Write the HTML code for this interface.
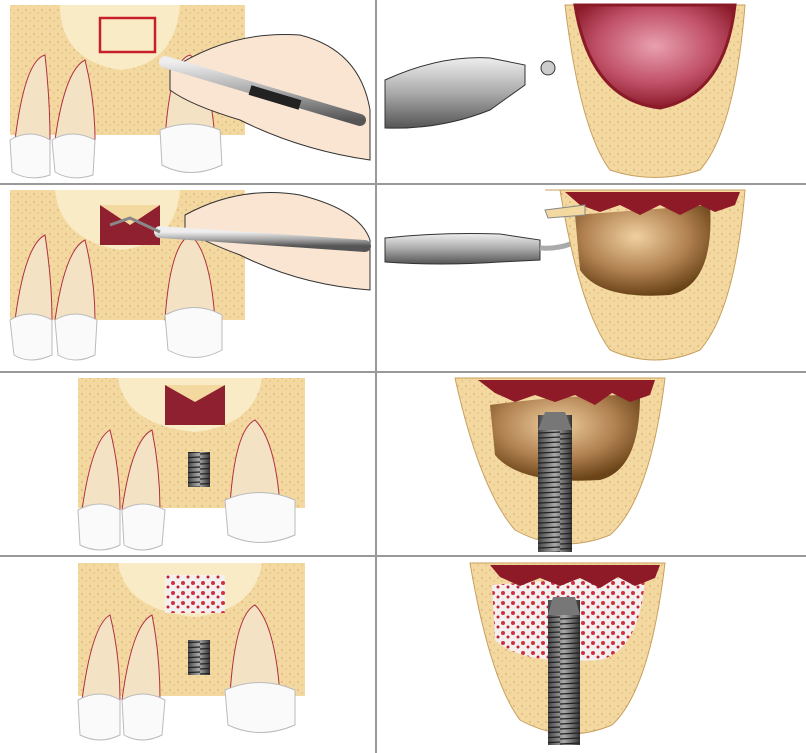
<!DOCTYPE html>
<html><head><style>
html,body{margin:0;padding:0;background:#fff;width:806px;height:753px;overflow:hidden}
</style></head><body>
<svg width="806" height="753" viewBox="0 0 806 753" xmlns="http://www.w3.org/2000/svg">
<defs>
<radialGradient id="pink" cx="50%" cy="40%" r="60%"><stop offset="0" stop-color="#e9a0b0"/><stop offset="0.6" stop-color="#c05068"/><stop offset="1" stop-color="#8a1a28"/></radialGradient>
<radialGradient id="brown" cx="45%" cy="35%" r="65%"><stop offset="0" stop-color="#f0d0a0"/><stop offset="0.6" stop-color="#b08050"/><stop offset="1" stop-color="#6a4418"/></radialGradient>
<linearGradient id="grey" x1="0" y1="0" x2="0" y2="1"><stop offset="0" stop-color="#eee"/><stop offset="0.5" stop-color="#aaa"/><stop offset="1" stop-color="#555"/></linearGradient>
<linearGradient id="impl" x1="0" y1="0" x2="1" y2="0"><stop offset="0" stop-color="#444"/><stop offset="0.5" stop-color="#aaa"/><stop offset="1" stop-color="#333"/></linearGradient>
<pattern id="thr" width="40" height="5" patternUnits="userSpaceOnUse"><rect width="40" height="5" fill="none"/><line x1="0" y1="4" x2="40" y2="2" stroke="#222" stroke-width="1.3"/></pattern>
<pattern id="spk" width="10" height="10" patternUnits="userSpaceOnUse"><rect width="10" height="10" fill="#f4f0f0"/><circle cx="3" cy="3" r="2" fill="#d03040"/><circle cx="8" cy="7" r="1.5" fill="#c02030"/></pattern>
<pattern id="bone" width="8" height="8" patternUnits="userSpaceOnUse"><rect width="8" height="8" fill="#f3d9a0"/><circle cx="2" cy="2" r="1" fill="#e0b880"/><circle cx="6" cy="5" r="1" fill="#e8c490"/></pattern>
</defs>
<g stroke="#999" stroke-width="2">
<line x1="376" y1="0" x2="376" y2="753"/>
<line x1="0" y1="184" x2="806" y2="184"/>
<line x1="0" y1="372" x2="806" y2="372"/>
<line x1="0" y1="556" x2="806" y2="556"/>
</g>

<!-- Row 1 left -->
<rect x="10" y="5" width="235" height="130" fill="url(#bone)"/>
<path d="M60 5 Q60 60 120 70 Q175 65 180 5Z" fill="#f8ebc6"/>
<rect x="100" y="18" width="55" height="34" fill="none" stroke="#c8202a" stroke-width="2.5"/>
<path d="M15 140 Q25 60 45 55 Q50 100 50 140Z M55 140 Q65 70 85 60 Q95 100 95 140Z M165 140 Q170 60 190 55 Q210 70 215 140Z" fill="#f3e2c4" stroke="#b03040"/>
<path d="M10 140 Q30 128 50 140 L50 175 Q30 182 12 172Z M52 140 Q72 128 95 140 L93 175 Q72 182 55 172Z M160 130 Q190 118 220 130 L222 165 Q190 180 162 165Z" fill="#fafafa" stroke="#bbb"/>
<path d="M170 70 Q230 30 300 35 Q360 50 370 110 L370 160 Q300 150 240 120 Q190 105 170 90Z" fill="#f9e5d2" stroke="#333"/>
<path d="M165 62 L360 120" stroke="url(#grey)" stroke-width="12" stroke-linecap="round"/>
<path d="M250 90 L300 105" stroke="#222" stroke-width="10"/>

<!-- Row 1 right -->
<path d="M385 80 Q440 55 490 58 L525 65 L525 85 L490 110 Q440 130 385 128Z" fill="url(#grey)" stroke="#333"/>
<circle cx="548" cy="68" r="7" fill="#ccc" stroke="#333"/>
<path d="M565 5 L745 5 Q735 130 700 170 Q655 185 610 170 Q580 130 565 5Z" fill="url(#bone)" stroke="#c8a060"/>
<path d="M575 5 L735 5 Q725 95 660 108 Q590 100 575 5Z" fill="url(#pink)" stroke="#8a1a28" stroke-width="3"/>

<!-- Row 2 left -->
<rect x="10" y="190" width="235" height="130" fill="url(#bone)"/>
<path d="M55 190 Q60 240 120 250 Q175 245 180 190Z" fill="#f8ebc6"/>
<rect x="100" y="205" width="60" height="40" fill="#8e2030"/>
<path d="M100 205 L160 205 L130 225Z" fill="#f3d9a0"/>
<path d="M15 320 Q25 245 45 235 Q52 280 52 320Z M55 320 Q65 250 85 240 Q95 280 95 320Z M165 320 Q170 245 190 235 Q210 250 215 320Z" fill="#f3e2c4" stroke="#b03040"/>
<path d="M10 320 Q30 308 52 320 L52 355 Q30 365 14 355Z M55 320 Q75 308 97 320 L95 355 Q75 365 58 355Z M165 315 Q195 300 222 315 L222 350 Q195 365 168 350Z" fill="#fafafa" stroke="#bbb"/>
<path d="M185 215 Q240 185 300 195 Q360 210 370 240 L370 290 Q300 285 240 255 Q200 240 185 230Z" fill="#f9e5d2" stroke="#333"/>
<path d="M160 232 L365 246" stroke="url(#grey)" stroke-width="12" stroke-linecap="round"/>
<path d="M110 225 L130 218 L160 232" stroke="#888" stroke-width="3" fill="none"/>

<!-- Row 2 right -->
<path d="M385 238 Q440 232 500 234 L540 240 L540 260 L500 262 Q440 266 385 262Z" fill="url(#grey)" stroke="#333"/>
<path d="M540 248 Q570 250 590 232 L600 236" stroke="#aaa" stroke-width="5" fill="none"/>
<path d="M545 190 L745 190 Q735 310 700 350 Q655 370 610 350 Q580 310 560 190Z" fill="url(#bone)" stroke="#c8a060"/>
<path d="M575 215 Q640 210 710 205 Q715 285 670 295 Q600 300 580 270Z" fill="url(#brown)"/>
<path d="M565 192 L740 192 L735 205 L715 212 L700 205 L680 215 L660 205 L640 215 L620 205 L600 212 L580 205Z" fill="#8e1a28"/>
<path d="M545 210 L585 205 L585 215 L548 218Z" fill="#f3d9a0" stroke="#888"/>

<!-- Row 3 left -->
<rect x="78" y="378" width="227" height="130" fill="url(#bone)"/>
<path d="M118 378 Q125 425 195 432 Q255 425 262 378Z" fill="#f8ebc6"/>
<rect x="165" y="385" width="60" height="40" fill="#8e2030"/>
<path d="M165 385 L225 385 L195 402Z" fill="#f3d9a0"/>
<rect x="188" y="452" width="22" height="35" fill="url(#impl)"/>
<rect x="188" y="452" width="22" height="35" fill="url(#thr)"/>
<path d="M82 510 Q92 440 110 430 Q120 470 120 510Z M122 510 Q132 440 152 430 Q160 470 160 510Z M230 505 Q235 430 255 420 Q275 440 280 505Z" fill="#f3e2c4" stroke="#b03040"/>
<path d="M78 510 Q100 498 120 510 L120 545 Q100 555 80 545Z M122 510 Q142 498 165 510 L162 545 Q142 555 124 545Z M225 500 Q260 485 295 500 L295 535 Q260 550 228 535Z" fill="#fafafa" stroke="#bbb"/>

<!-- Row 3 right -->
<path d="M455 378 L665 378 Q650 500 610 535 Q560 555 515 530 Q480 490 455 378Z" fill="url(#bone)" stroke="#c8a060"/>
<path d="M490 405 Q560 395 640 395 Q640 470 600 480 Q520 485 495 455Z" fill="url(#brown)"/>
<path d="M478 380 L655 380 L650 395 L630 402 L612 393 L595 405 L575 395 L555 402 L535 395 L515 402 L495 393Z" fill="#8e1a28"/>
<rect x="538" y="415" width="34" height="137" fill="url(#impl)"/>
<rect x="538" y="430" width="34" height="122" fill="url(#thr)"/>
<path d="M545 412 L565 412 L572 430 L538 430Z" fill="#777"/>

<!-- Row 4 left -->
<rect x="78" y="563" width="227" height="133" fill="url(#bone)"/>
<path d="M118 563 Q125 610 195 617 Q255 610 262 563Z" fill="#f8ebc6"/>
<rect x="165" y="575" width="60" height="38" fill="url(#spk)"/>
<rect x="188" y="640" width="22" height="35" fill="url(#impl)"/>
<rect x="188" y="640" width="22" height="35" fill="url(#thr)"/>
<path d="M82 700 Q92 625 110 615 Q120 655 120 700Z M122 700 Q132 625 152 615 Q160 655 160 700Z M230 695 Q235 615 255 605 Q275 625 280 695Z" fill="#f3e2c4" stroke="#b03040"/>
<path d="M78 700 Q100 688 120 700 L120 735 Q100 745 80 735Z M122 700 Q142 688 165 700 L162 735 Q142 745 124 735Z M225 690 Q260 675 295 690 L295 725 Q260 740 228 725Z" fill="#fafafa" stroke="#bbb"/>

<!-- Row 4 right -->
<path d="M470 563 L665 563 Q650 690 612 725 Q565 745 520 720 Q490 680 470 563Z" fill="url(#bone)" stroke="#c8a060"/>
<path d="M492 585 Q570 578 645 578 Q640 650 600 660 Q520 665 495 640Z" fill="url(#spk)"/>
<path d="M490 565 L660 565 L655 578 L635 586 L618 577 L600 588 L580 578 L560 586 L540 578 L520 586 L500 577Z" fill="#8e1a28"/>
<rect x="548" y="600" width="32" height="145" fill="url(#impl)"/>
<rect x="548" y="615" width="32" height="130" fill="url(#thr)"/>
<path d="M553 597 L575 597 L580 615 L548 615Z" fill="#777"/>
</svg>
</body></html>
